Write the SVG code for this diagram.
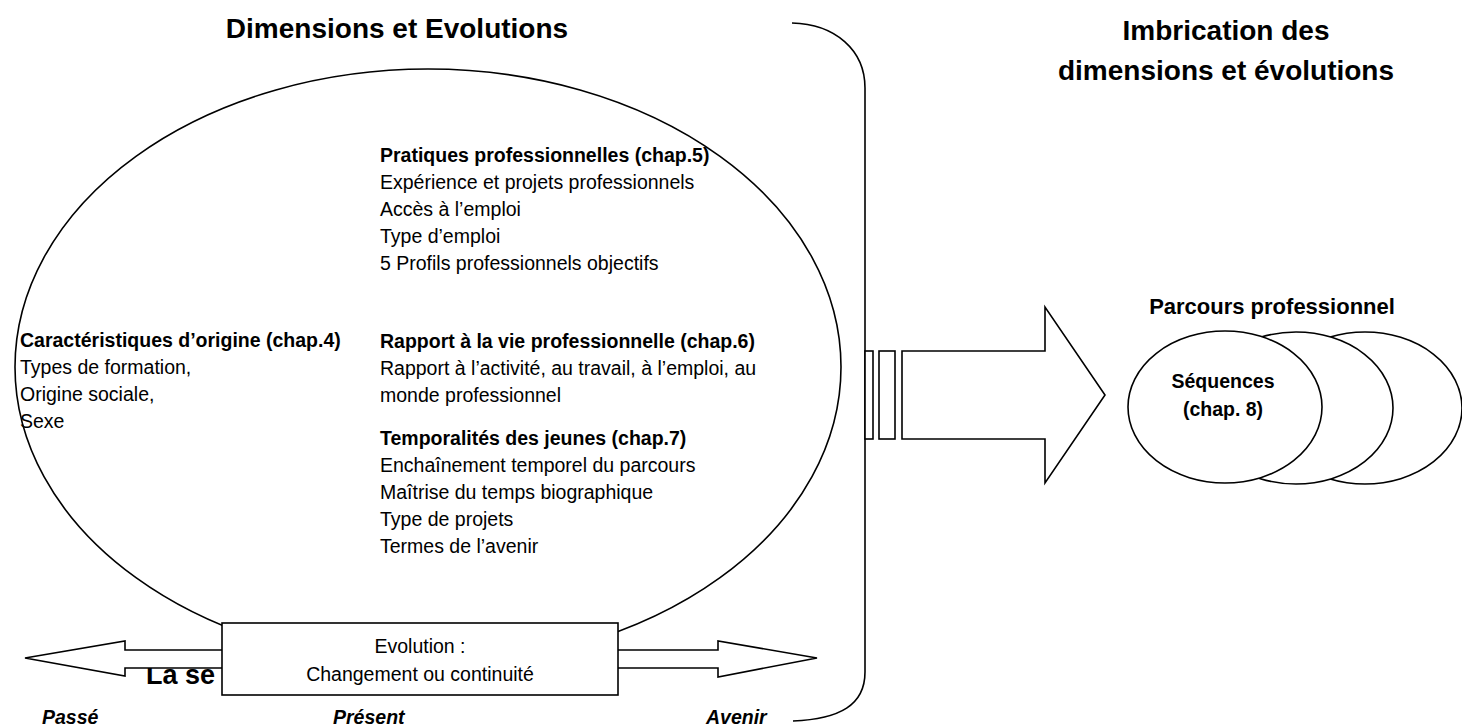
<svg xmlns="http://www.w3.org/2000/svg" width="1462" height="727" viewBox="0 0 1462 727">
<style>
.s{fill:none;stroke:#000;stroke-width:1.6}
.w{fill:#fff;stroke:#000;stroke-width:1.6}
text{font-family:"Liberation Sans",Arial,sans-serif;fill:#000}
.t{font-size:28px;font-weight:bold}
.b{font-size:19.5px;font-weight:bold}
.n{font-size:19.5px}
.bi{font-size:19.5px;font-weight:bold;font-style:italic}
</style>
<rect width="1462" height="727" fill="#fff"/>
<g id="titles">
<text class="t" x="397" y="38" text-anchor="middle">Dimensions et Evolutions</text>
<text class="t" x="1226" y="40" text-anchor="middle">Imbrication des</text>
<text class="t" x="1226" y="80" text-anchor="middle">dimensions et évolutions</text>
</g>
<g id="bracket">
<path class="s" d="M792,23 C835,24 865,50 865,88 L865,672 C865,705 840,719 793,721"/>
</g>
<g id="dimensions">
<ellipse class="s" cx="428" cy="367" rx="413" ry="298"/>
<text class="b" x="380" y="162">Pratiques professionnelles (chap.5)</text>
<text class="n" x="380" y="189">Expérience et projets professionnels</text>
<text class="n" x="380" y="216">Accès à l’emploi</text>
<text class="n" x="380" y="243">Type d’emploi</text>
<text class="n" x="380" y="270">5 Profils professionnels objectifs</text>
<text class="b" x="20" y="347">Caractéristiques d’origine (chap.4)</text>
<text class="n" x="20" y="374">Types de formation,</text>
<text class="n" x="20" y="401">Origine sociale,</text>
<text class="n" x="20" y="428">Sexe</text>
<text class="b" x="380" y="348">Rapport à la vie professionnelle (chap.6)</text>
<text class="n" x="380" y="375">Rapport à l’activité, au travail, à l’emploi, au</text>
<text class="n" x="380" y="402">monde professionnel</text>
<text class="b" x="380" y="445">Temporalités des jeunes (chap.7)</text>
<text class="n" x="380" y="472">Enchaînement temporel du parcours</text>
<text class="n" x="380" y="499">Maîtrise du temps biographique</text>
<text class="n" x="380" y="526">Type de projets</text>
<text class="n" x="380" y="553">Termes de l’avenir</text>
</g>
<g id="timeline">
<text x="146" y="684" style="font-size:27px;font-weight:bold">La se</text>
<path class="w" d="M25,658 L125,641 L125,650 L240,650 L240,668 L125,668 L125,676 Z"/>
<path class="w" d="M600,650 L718,650 L718,641 L817,658 L718,677 L718,668 L600,668 Z"/>
<rect class="w" x="222" y="623" width="396" height="72"/>
<text class="n" x="420" y="653" text-anchor="middle">Evolution :</text>
<text class="n" x="420" y="681" text-anchor="middle">Changement ou continuité</text>
<text class="bi" x="42" y="724">Passé</text>
<text class="bi" x="333" y="724">Présent</text>
<text class="bi" x="706" y="724">Avenir</text>
</g>
<g id="connectors">
<rect class="w" x="865" y="351" width="8" height="88"/>
<rect class="w" x="879" y="351" width="16" height="88"/>
<path class="w" d="M902,351 L1045,351 L1045,307 L1105,395 L1045,483 L1045,439 L902,439 Z"/>
</g>
<g id="parcours">
<text x="1272" y="314" text-anchor="middle" style="font-size:22px;font-weight:bold">Parcours professionnel</text>
<ellipse class="w" cx="1365" cy="408" rx="97" ry="76"/>
<ellipse class="w" cx="1296" cy="408" rx="97" ry="76"/>
<ellipse class="w" cx="1225" cy="407" rx="97" ry="76"/>
<text class="b" x="1223" y="388" text-anchor="middle">Séquences</text>
<text class="b" x="1223" y="416" text-anchor="middle">(chap. 8)</text>
</g>
</svg>
